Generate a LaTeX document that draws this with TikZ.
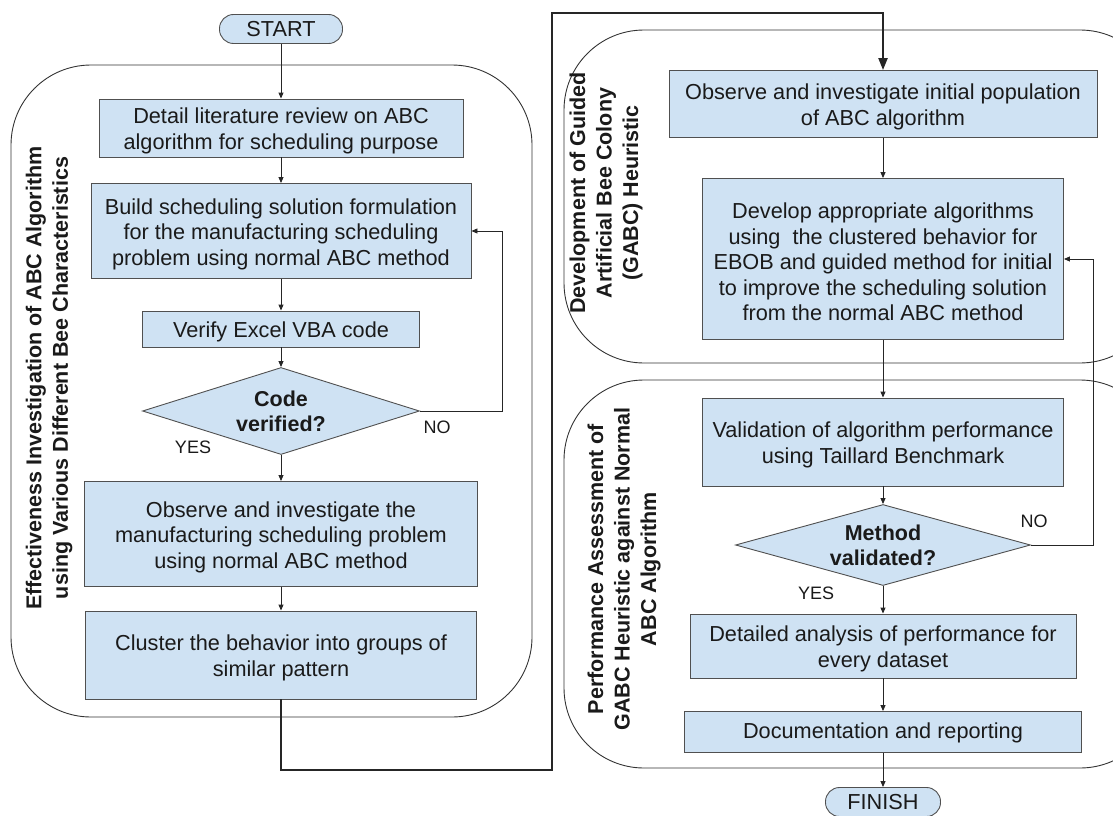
\documentclass[tikz,border=0pt]{standalone}
\usepackage{fontspec}
\setmainfont{Liberation Sans}
\usetikzlibrary{shapes.geometric,arrows.meta}
\definecolor{boxfill}{HTML}{CFE2F3}
\definecolor{boxline}{HTML}{505050}
\definecolor{txt}{HTML}{1A1A1A}
\begin{document}
\begin{tikzpicture}[x=1pt,y=-1pt,
  box/.style={draw=boxline, fill=boxfill, line width=0.9pt, inner sep=0pt},
  boxtext/.style={align=center, inner sep=0pt, yshift=-3pt,
    font=\fontsize{21.7}{25.5}\selectfont, text=txt},
  term/.style={draw=boxline, fill=boxfill, line width=0.9pt, align=center, inner sep=0pt,
    font=\fontsize{21.7}{25.5}\selectfont, text=txt, rounded corners=14pt},
  decision/.style={draw=boxline, fill=boxfill, line width=0.9pt, diamond, inner sep=0pt,
    align=center, font=\fontsize{21.5}{25}\selectfont\bfseries, text=txt},
  group/.style={draw=black!80, line width=0.9pt, rounded corners=80pt},
  grouplabel/.style={rotate=90, align=center, font=\fontsize{21.5}{26.5}\selectfont\bfseries, text=txt},
  lbl/.style={font=\fontsize{18}{20}\selectfont, text=txt},
  arr/.style={draw=black!85, line width=0.9pt, -{Triangle[length=6pt,width=5pt]}},
  thick arr/.style={draw=black!85, line width=2.2pt, -{Triangle[length=12pt,width=9pt]}}
]
\useasboundingbox (0,0) rectangle (1113,816);
\clip (0,0) rectangle (1113,816);

% group containers
\draw[group] (11,65) rectangle (532,717);
\draw[group] (564,30) rectangle (1160,363);
\draw[group] (564,380) rectangle (1160,768);

\node[grouplabel] (gl1) at (49,378) {Effectiveness Investigation of ABC Algorithm\\using Various Different Bee Characteristics};
\node[grouplabel] (gl2) at (606,193) {Development of Guided\\Artificial Bee Colony\\(GABC) Heuristic};
\node[grouplabel] (gl3) at (624,569) {Performance Assessment of\\GABC Heuristic against Normal\\ABC Algorithm};

% left column
\node[term, minimum width=123pt, minimum height=29pt] (start) at (281,29) {START};
\node[box, minimum width=364pt, minimum height=58pt,
  label={[boxtext]center:{Detail literature review on ABC\\algorithm for scheduling purpose}}] (b1) at (281,128) {};
\node[box, minimum width=380pt, minimum height=95pt,
  label={[boxtext]center:{Build scheduling solution formulation\\for the manufacturing scheduling\\problem using normal ABC method}}] (b2) at (281,231) {};
\node[box, minimum width=277pt, minimum height=36pt,
  label={[boxtext]center:{Verify Excel VBA code}}] (b3) at (281,329) {};
\node[decision, aspect=3.18, minimum width=277pt, minimum height=87pt] (d1) at (281,411) {Code\\verified?};
\node[box, minimum width=393pt, minimum height=105pt,
  label={[boxtext]center:{Observe and investigate the\\manufacturing scheduling problem\\using normal ABC method}}] (b4) at (281,534) {};
\node[box, minimum width=391pt, minimum height=88pt,
  label={[boxtext]center:{Cluster the behavior into groups of\\similar pattern}}] (b5) at (281,655) {};

% right column
\node[box, minimum width=428pt, minimum height=67pt,
  label={[boxtext]center:{Observe and investigate initial population\\of ABC algorithm}}] (b6) at (883,104) {};
\node[box, minimum width=361pt, minimum height=161pt,
  label={[boxtext]center:{Develop appropriate algorithms\\using\ \ the clustered behavior for\\EBOB and guided method for initial\\to improve the scheduling solution\\from the normal ABC method}}] (b7) at (883,259) {};
\node[box, minimum width=361pt, minimum height=88pt,
  label={[boxtext]center:{Validation of algorithm performance\\using Taillard Benchmark}}] (b8) at (883,442) {};
\node[decision, aspect=3.64, minimum width=295pt, minimum height=81pt] (d2) at (883,545) {Method\\validated?};
\node[box, minimum width=386pt, minimum height=64pt,
  label={[boxtext]center:{Detailed analysis of performance for\\every dataset}}] (b9) at (883,646) {};
\node[box, minimum width=397pt, minimum height=41pt,
  label={[boxtext, yshift=2pt]center:{Documentation and reporting}}] (b10) at (883,732) {};
\node[term, minimum width=115pt, minimum height=29pt] (finish) at (883,802) {FINISH};

% labels
\node[lbl] (no1) at (437,427) {NO};
\node[lbl] (yes1) at (193,447) {YES};
\node[lbl] (no2) at (1034,521) {NO};
\node[lbl] (yes2) at (816,593) {YES};

% coordinates for bends
\coordinate (l1) at (502,411);
\coordinate (l2) at (1093,545);
\coordinate (t1) at (281,770);
\coordinate (t2) at (552,770);
\coordinate (t3) at (552,13);
\coordinate (t4) at (883,13);

% connectors
\draw[arr] (start) -- (b1);
\draw[arr] (b1) -- (b2);
\draw[arr] (b2) -- (b3);
\draw[arr] (b3) -- (d1);
\draw[arr] (d1) -- (b4);
\draw[arr] (b4) -- (b5);
\draw[arr] (d1.east) -- (l1) |- (b2.east);
\draw[thick arr] (b5.south) -- (t1) -- (t2) -- (t3) -- (t4) -- (b6.north);
\draw[arr] (b6) -- (b7);
\draw[arr] (b7) -- (b8);
\draw[arr] (b8) -- (d2);
\draw[arr] (d2) -- (b9);
\draw[arr] (b9) -- (b10);
\draw[arr] (b10) -- (finish);
\draw[arr] (d2.east) -- (l2) |- (b7.east);
\end{tikzpicture}
\end{document}
